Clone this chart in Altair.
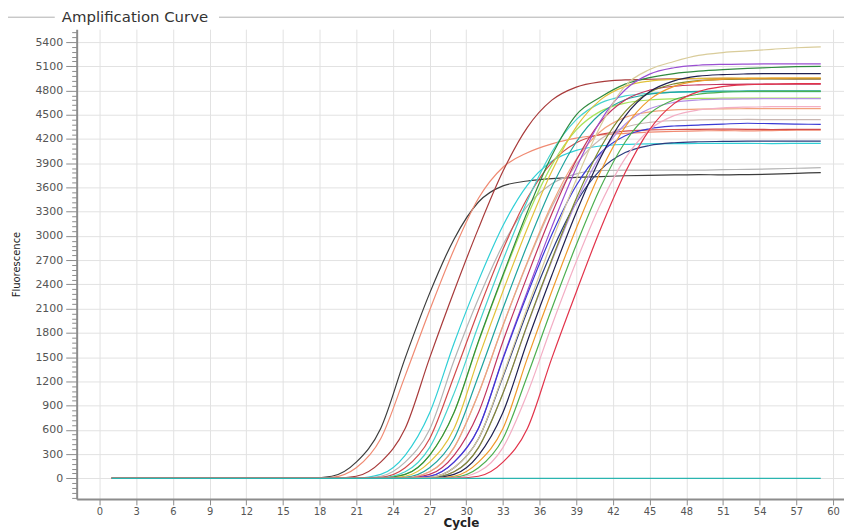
import altair as alt
import pandas as pd

# ---- data ----
cycles = [1, 17, 19, 21, 23, 25, 27, 29, 31, 33, 35, 37, 39, 41, 43, 45, 47, 49, 51, 53, 55, 57, 59]

w01 = [0, 0, 25, 200, 617, 1488, 2289, 2960, 3420, 3620, 3680, 3710, 3725, 3735, 3745, 3750, 3755, 3760, 3755, 3760, 3765, 3775, 3785]
w02 = [0, 0, 12, 130, 490, 1268, 2078, 2832, 3466, 3850, 4030, 4140, 4210, 4250, 4270, 4285, 4295, 4300, 4305, 4300, 4305, 4310, 4310]
w03 = [0, 0, 0, 25, 200, 616, 1488, 2315, 3094, 3800, 4345, 4681, 4843, 4908, 4931, 4940, 4945, 4948, 4950, 4948, 4946, 4945, 4945]
w04 = [0, 0, 0, 2, 48, 285, 807, 1672, 2447, 3127, 3630, 3925, 4060, 4114, 4134, 4141, 4143, 4145, 4146, 4145, 4144, 4145, 4145]
w05 = [0, 0, 0, 0, 25, 200, 605, 1458, 2225, 2890, 3373, 3646, 3769, 3810, 3815, 3815, 3815, 3815, 3820, 3825, 3830, 3838, 3845]
w06 = [0, 0, 0, 3, 12, 130, 490, 1264, 2078, 2834, 3469, 3912, 4153, 4258, 4298, 4312, 4318, 4320, 4322, 4320, 4318, 4320, 4320]
w07 = [0, 0, 0, 0, 5, 80, 380, 1051, 1897, 2699, 3436, 4040, 4440, 4647, 4733, 4766, 4778, 4783, 4785, 4786, 4785, 4785, 4785]
w08 = [0, 0, 0, 0, 2, 48, 285, 811, 1688, 2497, 3248, 3877, 4312, 4545, 4645, 4683, 4697, 4702, 4705, 4706, 4705, 4705, 4705]
w09 = [0, 0, 0, 0, 2, 48, 285, 816, 1698, 2517, 3300, 3997, 4500, 4720, 4880, 4960, 5010, 5040, 5060, 5075, 5085, 5095, 5100]
w10 = [0, 0, 0, 0, 0, 25, 200, 616, 1488, 2315, 3095, 3802, 4350, 4688, 4852, 4917, 4941, 4950, 4953, 4955, 4955, 4955, 4955]
w11 = [0, 0, 0, 0, 3, 12, 130, 490, 1270, 2102, 2890, 3605, 4163, 4515, 4686, 4755, 4780, 4790, 4793, 4795, 4795, 4795, 4795]
w12 = [0, 0, 0, 0, 0, 5, 80, 380, 1048, 1886, 2665, 3360, 3885, 4200, 4345, 4406, 4428, 4436, 4440, 4442, 4440, 4440, 4440]
w13 = [0, 0, 0, 0, 0, 5, 80, 380, 1051, 1892, 2679, 3392, 3949, 4297, 4468, 4535, 4560, 4570, 4573, 4575, 4575, 4575, 4575]
w14 = [0, 0, 0, 0, 0, 2, 48, 285, 815, 1694, 2506, 3275, 3936, 4414, 4684, 4805, 4853, 4870, 4876, 4880, 4880, 4880, 4880]
w15 = [0, 0, 0, 0, 0, 0, 25, 200, 620, 1491, 2316, 3112, 3840, 4429, 4810, 5003, 5082, 5113, 5124, 5128, 5130, 5130, 5130]
w16 = [0, 0, 0, 0, 0, 0, 25, 200, 620, 1476, 2280, 3019, 3625, 4030, 4240, 4327, 4361, 4373, 4385, 4395, 4390, 4385, 4380]
w17 = [0, 0, 0, 0, 0, 3, 12, 130, 490, 1256, 2070, 2809, 3416, 3821, 4032, 4120, 4154, 4166, 4170, 4173, 4173, 4173, 4173]
w18 = [0, 0, 0, 0, 0, 0, 5, 80, 380, 1051, 1896, 2691, 3419, 4003, 4383, 4574, 4653, 4683, 4694, 4698, 4700, 4700, 4700]
w19 = [0, 0, 0, 0, 0, 0, 5, 80, 380, 1051, 1905, 2708, 3463, 4098, 4540, 4779, 4883, 4923, 4937, 4942, 4945, 4945, 4945]
w20 = [0, 0, 0, 0, 0, 0, 2, 48, 285, 815, 1697, 2513, 3290, 3974, 4483, 4784, 4920, 4978, 4998, 5006, 5010, 5010, 5010]
w21 = [0, 0, 0, 0, 0, 0, 0, 25, 200, 616, 1488, 2315, 3095, 3802, 4350, 4688, 4852, 4917, 4941, 4950, 4953, 4955, 4955]
w22 = [0, 0, 0, 0, 0, 0, 3, 12, 130, 490, 1270, 2102, 2890, 3605, 4163, 4515, 4686, 4755, 4780, 4788, 4790, 4790, 4790]
w23 = [0, 0, 0, 0, 0, 3, 12, 130, 490, 1276, 2115, 2929, 3699, 4368, 4859, 5060, 5160, 5235, 5270, 5290, 5310, 5330, 5340]
w24 = [0, 0, 0, 0, 0, 0, 0, 5, 80, 380, 1051, 1892, 2683, 3398, 3960, 4315, 4489, 4559, 4585, 4595, 4600, 4600, 4600]
w25 = [0, 0, 0, 0, 0, 0, 0, 0, 25, 200, 616, 1488, 2307, 3092, 3785, 4317, 4638, 4787, 4850, 4872, 4880, 4885, 4885]
w26 = [0, 0, 0, 0, 0, 0, 0, 0, 0, 0, 0, 0, 0, 0, 0, 0, 0, 0, 0, 0, 0, 0, 0]

well_names = ["W01", "W02", "W03", "W04", "W05", "W06", "W07", "W08", "W09", "W10", "W11", "W12", "W13",
              "W14", "W15", "W16", "W17", "W18", "W19", "W20", "W21", "W22", "W23", "W24", "W25", "W26"]
well_colors = ["#3c3c3c", "#f08a72", "#a83a3a", "#2fcfd6", "#b4b4b4", "#d24b4b", "#45d3cf", "#a6e35a",
               "#2f8a3f", "#e2c23a", "#1fa39e", "#c9b7b2", "#f2a27c", "#c2335e", "#9a4fd2", "#3a3ad4",
               "#2b3b7e", "#b48fe4", "#7f8a2e", "#1f1f4f", "#f09a2a", "#4caf50", "#d9cc9a", "#f3aec4",
               "#e2334a", "#2ab5b0"]
well_values = [w01, w02, w03, w04, w05, w06, w07, w08, w09, w10, w11, w12, w13,
               w14, w15, w16, w17, w18, w19, w20, w21, w22, w23, w24, w25, w26]

x_tick_values = [0, 3, 6, 9, 12, 15, 18, 21, 24, 27, 30, 33, 36, 39, 42, 45, 48, 51, 54, 57, 60]
y_tick_values = list(range(-240, 5521, 60))

# ---- build long table ----
rows = []
for name, vals in zip(well_names, well_values):
    assert len(vals) == len(cycles), name
    for c, v in zip(cycles, vals):
        rows.append({"well": name, "cycle": c, "fluor": v})
df = pd.DataFrame(rows)

FONT = "DejaVu Sans"
AXIS_GRAY = "#8c8c8c"

x_axis = alt.Axis(
    values=x_tick_values, format="d", title="Cycle",
    titleFont=FONT, titleFontSize=12, titleFontWeight="bold", titleColor="#222222",
    titleX=386, titleY=28, titleAlign="center", titleBaseline="alphabetic",
    labelFont=FONT, labelFontSize=10, labelColor="#555555", labelPadding=2,
    labelFlush=False, labelOverlap=False,
    tickSize=6, tickColor=AXIS_GRAY, tickWidth=1,
    domainColor=AXIS_GRAY, domainWidth=2,
    grid=True, gridColor="#e2e2e2", gridWidth=1,
)

y_axis = alt.Axis(
    values=y_tick_values, title="Fluorescence",
    labelExpr="datum.value % 300 === 0 ? format(datum.value, 'd') : ''",
    titleFont=FONT, titleFontSize=10, titleFontWeight="normal", titleColor="#222222",
    titleX=-60, titleY=236, titleAngle=270, titleAlign="center", titleBaseline="middle",
    labelFont=FONT, labelFontSize=11, labelColor="#555555", labelPadding=3,
    labelFlush=False, labelOverlap=False,
    tickSize={"condition": {"test": "datum.value % 300 === 0", "value": 11}, "value": 5},
    tickColor=AXIS_GRAY, tickWidth=1,
    domainColor=AXIS_GRAY, domainWidth=2,
    grid=True, gridColor="#e2e2e2", gridWidth=1,
    gridOpacity={"condition": {"test": "datum.value % 300 === 0", "value": 1}, "value": 0},
)

lines = alt.Chart(df).mark_line(interpolate="monotone", strokeWidth=1.2).encode(
    x=alt.X("cycle:Q", scale=alt.Scale(domain=[-1.87, 60.9], nice=False, zero=False), axis=x_axis),
    y=alt.Y("fluor:Q", scale=alt.Scale(domain=[-255, 5560], nice=False, zero=False), axis=y_axis),
    color=alt.Color("well:N", scale=alt.Scale(domain=well_names, range=well_colors), legend=None),
    detail="well:N",
)

one = alt.Data(values=[{"k": 0}])
frame_left = alt.Chart(one).mark_rule(color="#b0b0b0", strokeWidth=1).encode(
    x=alt.value(-72), x2=alt.value(-22), y=alt.value(-12))
frame_right = alt.Chart(one).mark_rule(color="#b0b0b0", strokeWidth=1).encode(
    x=alt.value(143), x2=alt.value(790), y=alt.value(-12))
title_text = alt.Chart(one).mark_text(
    font=FONT, fontSize=15, fontWeight="normal", color="#333333", align="left", baseline="middle"
).encode(x=alt.value(-15), y=alt.value(-12), text=alt.value("Amplification Curve"))

chart = alt.layer(lines, frame_left, frame_right, title_text).properties(
    width=771, height=472,
    autosize=alt.AutoSizeParams(type="none"),
    padding={"left": 69, "top": 20, "right": 0, "bottom": 30},
    background="white",
).configure_view(stroke=None)

chart.save("out.html", embed_options={"renderer": "svg", "actions": False})
